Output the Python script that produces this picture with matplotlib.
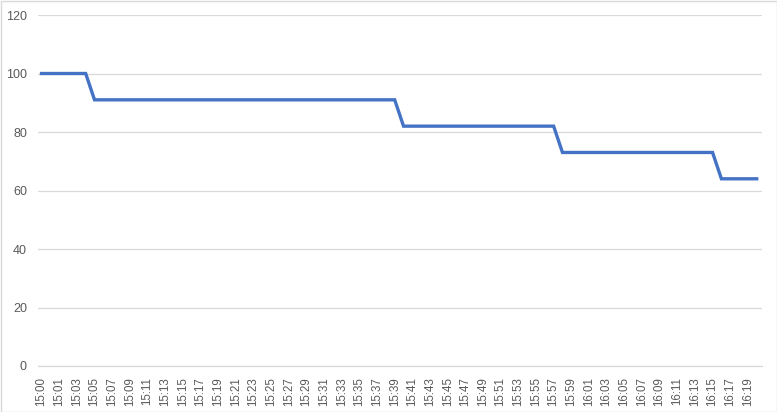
import matplotlib
matplotlib.use("Agg")
import matplotlib.pyplot as plt
from matplotlib.patches import Rectangle

# category labels (one per point), every second one is shown
times = ["15:00"] + ["%d:%02d" % (15 + m // 60, m % 60) for m in range(0, 81)]
# series values
values = [100] * 6 + [91] * 35 + [82] * 18 + [73] * 18 + [64] * 5

line_color = "#4472C4"
grid_color = "#d9d9d9"
text_color = "#595959"

fig = plt.figure(figsize=(7.77, 4.12), dpi=100)
ax = fig.add_axes([38 / 777, 1 - 366 / 412, (762 - 38) / 777, (366 - 15) / 412])

x = list(range(len(values)))
ax.plot(x, values, color=line_color, linewidth=2.4, solid_joinstyle="miter")

ax.set_xlim(-0.4, len(values) - 0.4)
ax.set_ylim(0, 120)
ax.set_yticks(range(0, 121, 20))
ax.set_xticks(x[::2])
ax.set_xticklabels(times[::2], rotation=90)

ax.grid(axis="y", color=grid_color, linewidth=0.9)
ax.set_axisbelow(True)
for s in ["top", "right", "left"]:
    ax.spines[s].set_visible(False)
ax.spines["bottom"].set_color(grid_color)
ax.spines["bottom"].set_linewidth(0.9)
ax.tick_params(axis="both", length=0, colors=text_color, labelsize=9)
ax.tick_params(axis="x", pad=8, labelsize=8.3)
ax.tick_params(axis="y", pad=8)
for lab in ax.get_xticklabels() + ax.get_yticklabels():
    lab.set_fontfamily("Liberation Sans")

fig.patches.append(Rectangle((0.5 / 777, 0.5 / 412), 776 / 777, 411 / 412,
                             transform=fig.transFigure, fill=False,
                             edgecolor=grid_color, linewidth=1))

fig.savefig("out.png", dpi=100)
